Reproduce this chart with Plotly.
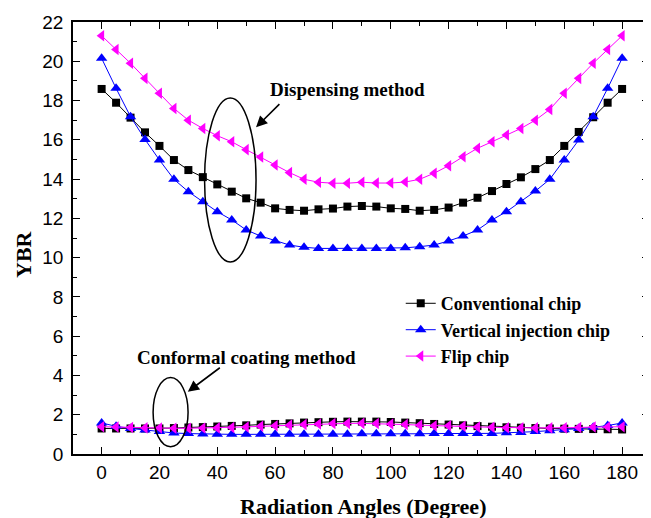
import plotly.graph_objects as go

angles = list(range(0, 181, 5))

# Dispensing method
conv_disp = [18.59, 17.89, 17.13, 16.38, 15.69, 14.97, 14.46, 14.1, 13.73, 13.36, 13.02, 12.8,
             12.51, 12.43, 12.39, 12.46, 12.5, 12.6, 12.63, 12.6, 12.51, 12.48, 12.39, 12.43,
             12.55, 12.8, 13.05, 13.39, 13.75, 14.09, 14.51, 14.97, 15.69, 16.4, 17.15, 17.89, 18.59]
vert_disp = [20.15, 18.62, 17.18, 16.02, 14.97, 13.99, 13.36, 12.85, 12.34, 11.92, 11.41, 11.1,
             10.85, 10.64, 10.53, 10.47, 10.47, 10.47, 10.47, 10.47, 10.47, 10.5, 10.56, 10.64,
             10.85, 11.1, 11.41, 11.92, 12.34, 12.85, 13.39, 13.99, 14.97, 15.99, 17.18, 18.62, 20.15]
flip_disp = [21.3, 20.6, 19.9, 19.13, 18.37, 17.6, 17.0, 16.58, 16.21, 15.9, 15.5, 15.13,
             14.72, 14.33, 13.99, 13.84, 13.79, 13.79, 13.84, 13.8, 13.8, 13.85, 13.99, 14.3,
             14.68, 15.14, 15.57, 15.9, 16.25, 16.58, 17.0, 17.55, 18.37, 19.13, 19.9, 20.6, 21.3]

# Conformal coating method
conv_cc = [1.3, 1.3, 1.3, 1.3, 1.3, 1.32, 1.35, 1.37, 1.4, 1.43, 1.46, 1.5, 1.53, 1.56, 1.6,
           1.62, 1.64, 1.65, 1.65, 1.65, 1.63, 1.6, 1.57, 1.53, 1.5, 1.46, 1.42, 1.39, 1.36,
           1.34, 1.32, 1.3, 1.29, 1.28, 1.27, 1.26, 1.25]
vert_cc = [1.58, 1.41, 1.3, 1.22, 1.14, 1.07, 1.04, 1.02, 1.0, 1.0, 1.0, 1.0, 1.0, 1.0, 1.0,
           1.0, 1.0, 1.0, 1.03, 1.03, 1.03, 1.03, 1.03, 1.04, 1.04, 1.04, 1.05, 1.05, 1.08,
           1.1, 1.14, 1.19, 1.24, 1.3, 1.36, 1.45, 1.58]
flip_cc = [1.39, 1.37, 1.35, 1.33, 1.32, 1.31, 1.31, 1.32, 1.33, 1.35, 1.38, 1.41, 1.44, 1.47,
           1.5, 1.53, 1.55, 1.56, 1.56, 1.55, 1.53, 1.5, 1.47, 1.44, 1.44, 1.41, 1.38, 1.36,
           1.34, 1.33, 1.33, 1.33, 1.33, 1.35, 1.37, 1.38, 1.39]

names = ["Conventional chip", "Vertical injection chip", "Flip chip"]
colors = ["#000000", "#0000FF", "#FF00FF"]
symbols = ["square", "triangle-up", "triangle-left"]
sizes = [8, 10, 10]

fig = go.Figure()
for disp, name, col, sym, sz in zip([conv_disp, vert_disp, flip_disp],
                                    names, colors, symbols, sizes):
    fig.add_trace(go.Scatter(x=angles, y=disp, mode="lines+markers", name=name,
                             line=dict(color=col, width=1),
                             marker=dict(symbol=sym, size=sz, color=col)))
for cc, col, sym, sz in zip([conv_cc, vert_cc, flip_cc], colors, symbols, sizes):
    fig.add_trace(go.Scatter(x=angles, y=cc, mode="lines+markers", showlegend=False,
                             line=dict(color=col, width=1),
                             marker=dict(symbol=sym, size=sz, color=col)))

serif = "Liberation Serif, Times New Roman, serif"
sans = "Liberation Sans, Arial, sans-serif"

axis_common = dict(showline=True, linecolor="black", linewidth=1.8, mirror="ticks",
                   ticks="inside", ticklen=7, tickwidth=1.3, tickcolor="black",
                   showgrid=False, zeroline=False,
                   tickfont=dict(family=sans, size=19, color="black"))

fig.update_xaxes(range=[-9.9, 189.3], tickmode="linear", tick0=0, dtick=20,
                 ticklabelstandoff=0,
                 minor=dict(ticks="inside", ticklen=4, dtick=10, tick0=0, tickcolor="black"),
                 **axis_common)
fig.update_yaxes(range=[0, 22], tickmode="linear", tick0=0, dtick=2,
                 ticklabelstandoff=4,
                 minor=dict(ticks="inside", ticklen=4, dtick=1, tick0=0, tickcolor="black"),
                 **axis_common)

annfont = dict(family=serif, size=19, color="black", weight="bold")
fig.update_layout(
    width=643, height=510,
    margin=dict(l=65, r=0, t=14, b=64),
    plot_bgcolor="white", paper_bgcolor="white",
    legend=dict(x=0.569, y=0.391, xanchor="left", yanchor="top",
                font=dict(family=serif, size=18, color="black", weight="bold"),
                bgcolor="rgba(0,0,0,0)", tracegroupgap=0),
    shapes=[
        dict(type="circle", xref="x", yref="y", x0=35.6, x1=53.4, y0=9.78, y1=18.13,
             line=dict(color="black", width=1.5)),
        dict(type="circle", xref="x", yref="y", x0=17.8, x1=29.9, y0=0.37, y1=3.89,
             line=dict(color="black", width=1.5)),
    ],
    annotations=[
        dict(text="Dispensing method", x=84.9, y=18.54, xref="x", yref="y",
             showarrow=False, font=annfont),
        dict(text="Conformal coating method", x=50.1, y=4.94, xref="x", yref="y",
             showarrow=False, font=annfont),
        dict(text="", x=53.4, y=16.64, ax=62.0, ay=17.89, xref="x", yref="y",
             axref="x", ayref="y", showarrow=True, arrowhead=2, arrowsize=1.4,
             arrowwidth=1.6, arrowcolor="black"),
        dict(text="", x=29.8, y=3.17, ax=41.4, ay=4.45, xref="x", yref="y",
             axref="x", ayref="y", showarrow=True, arrowhead=2, arrowsize=1.4,
             arrowwidth=1.6, arrowcolor="black"),
        dict(text="Radiation Angles (Degree)", x=0.503, y=-0.155, xref="paper", yref="paper",
             showarrow=False, font=dict(family=serif, size=22, color="black", weight="bold")),
        dict(text="YBR", x=-0.111, y=0.462, xref="paper", yref="paper", textangle=-90,
             showarrow=False, font=dict(family=serif, size=22, color="black", weight="bold")),
    ],
)

fig.write_html("out.html")
